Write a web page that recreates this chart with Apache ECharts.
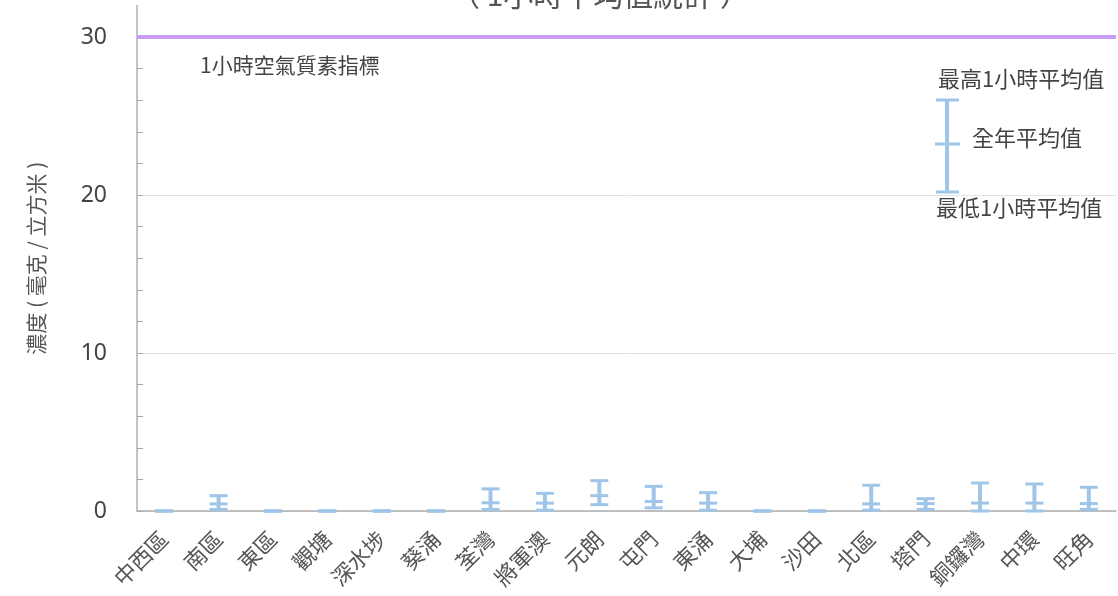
<!DOCTYPE html>
<html><head><meta charset="utf-8">
<script src="https://cdn.jsdelivr.net/npm/echarts@6/dist/echarts.min.js"></script>
<style>html,body{margin:0;padding:0;background:#fff}#c{width:1118px;height:596px}</style>
</head><body><div id="c"></div>
<script>
const categories = ['中西區','南區','東區','觀塘','深水埗','葵涌','荃灣','將軍澳','元朗','屯門','東涌','大埔','沙田','北區','塔門','銅鑼灣','中環','旺角'];
const minValues  = [0, 0.1, 0, 0, 0, 0, 0.1, 0.05, 0.4, 0.2, 0.05, 0, 0, 0.05, 0.1, 0, 0, 0.1];
const meanValues = [0, 0.45, 0, 0, 0, 0, 0.52, 0.5, 0.97, 0.6, 0.5, 0, 0, 0.45, 0.47, 0.5, 0.5, 0.47];
const maxValues  = [0, 0.97, 0, 0, 0, 0, 1.4, 1.12, 1.92, 1.56, 1.16, 0, 0, 1.63, 0.78, 1.77, 1.71, 1.5];
const aqoValue = 30;
const yTickLabels = [0, 10, 20, 30];

const CJK = '"Noto Sans CJK TC","Noto Sans CJK SC",sans-serif';
const barColor = '#9fc5e8';
const data = categories.map((c, i) => [i, minValues[i], meanValues[i], maxValues[i]]);

const chart = echarts.init(document.getElementById('c'));
chart.setOption({
  animation: false,
  title: {
    text: '（ 1小時平均值統計 ）',
    left: 595, textAlign: 'center', top: -25,
    textStyle: {fontFamily: CJK, fontSize: 30, fontWeight: 'normal', color: '#555'}
  },
  grid: {left: 137, right: 2, top: 5.4, bottom: 85},
  xAxis: {
    type: 'category', data: categories,
    axisLine: {lineStyle: {color: '#b0b0b0', width: 1.5}},
    axisTick: {inside: true, length: 7, lineStyle: {color: '#a0a0a0'}},
    axisLabel: {rotate: 45, fontFamily: CJK, fontSize: 22, color: '#555', margin: 24}
  },
  yAxis: {
    type: 'value', min: 0, max: 32, interval: 2,
    name: '濃度 ( 毫克 / 立方米 )', nameLocation: 'middle', nameGap: 90,
    nameTextStyle: {fontFamily: CJK, fontSize: 21, color: '#555'},
    axisLine: {show: true, lineStyle: {color: '#b0b0b0', width: 1.5}},
    axisTick: {show: true, inside: true, length: 6, lineStyle: {color: '#a8a8a8'}},
    axisLabel: {
      fontFamily: '"Liberation Sans Narrow","Noto Sans",sans-serif', fontSize: 23, color: '#444', margin: 30,
      showMaxLabel: false,
      formatter: function (v) { return yTickLabels.indexOf(v) >= 0 ? String(v) : ''; }
    },
    splitLine: {show: true, lineStyle: {color: ['#e2e2e2', 'rgba(0,0,0,0)', 'rgba(0,0,0,0)', 'rgba(0,0,0,0)', 'rgba(0,0,0,0)'], width: 1}}
  },
  graphic: [
    {type: 'text', left: 200, top: 55, style: {text: '1小時空氣質素指標', font: '21px ' + CJK, fill: '#444'}},
    {type: 'line', shape: {x1: 947, y1: 100, x2: 947, y2: 192}, style: {stroke: barColor, lineWidth: 4}},
    {type: 'line', shape: {x1: 936, y1: 100, x2: 959, y2: 100}, style: {stroke: barColor, lineWidth: 3}},
    {type: 'line', shape: {x1: 935, y1: 144, x2: 960, y2: 144}, style: {stroke: barColor, lineWidth: 3}},
    {type: 'line', shape: {x1: 936, y1: 192, x2: 959, y2: 192}, style: {stroke: barColor, lineWidth: 3}},
    {type: 'text', left: 938, top: 68, style: {text: '最高1小時平均值', font: '22px ' + CJK, fill: '#444'}},
    {type: 'text', left: 972, top: 127, style: {text: '全年平均值', font: '22px ' + CJK, fill: '#444'}},
    {type: 'text', left: 936, top: 197, style: {text: '最低1小時平均值', font: '22px ' + CJK, fill: '#444'}}
  ],
  series: [{
    type: 'custom',
    clip: false,
    data: data,
    renderItem: function (params, api) {
      const x = api.value(0);
      const pMin = api.coord([x, api.value(1)]);
      const pMean = api.coord([x, api.value(2)]);
      const pMax = api.coord([x, api.value(3)]);
      const hw = 9;
      const st = {stroke: barColor, lineWidth: 3};
      return {
        type: 'group',
        children: [
          {type: 'line', shape: {x1: pMin[0], y1: pMin[1], x2: pMax[0], y2: pMax[1]}, style: {stroke: barColor, lineWidth: 4}},
          {type: 'line', shape: {x1: pMax[0] - hw, y1: pMax[1], x2: pMax[0] + hw, y2: pMax[1]}, style: st},
          {type: 'line', shape: {x1: pMean[0] - hw, y1: pMean[1], x2: pMean[0] + hw, y2: pMean[1]}, style: st},
          {type: 'line', shape: {x1: pMin[0] - hw, y1: pMin[1], x2: pMin[0] + hw, y2: pMin[1]}, style: st}
        ]
      };
    },
    markLine: {
      silent: true, symbol: 'none',
      label: {show: false},
      lineStyle: {color: '#c89cf2', width: 4, type: 'solid'},
      data: [{yAxis: aqoValue}]
    }
  }]
});
</script></body></html>
